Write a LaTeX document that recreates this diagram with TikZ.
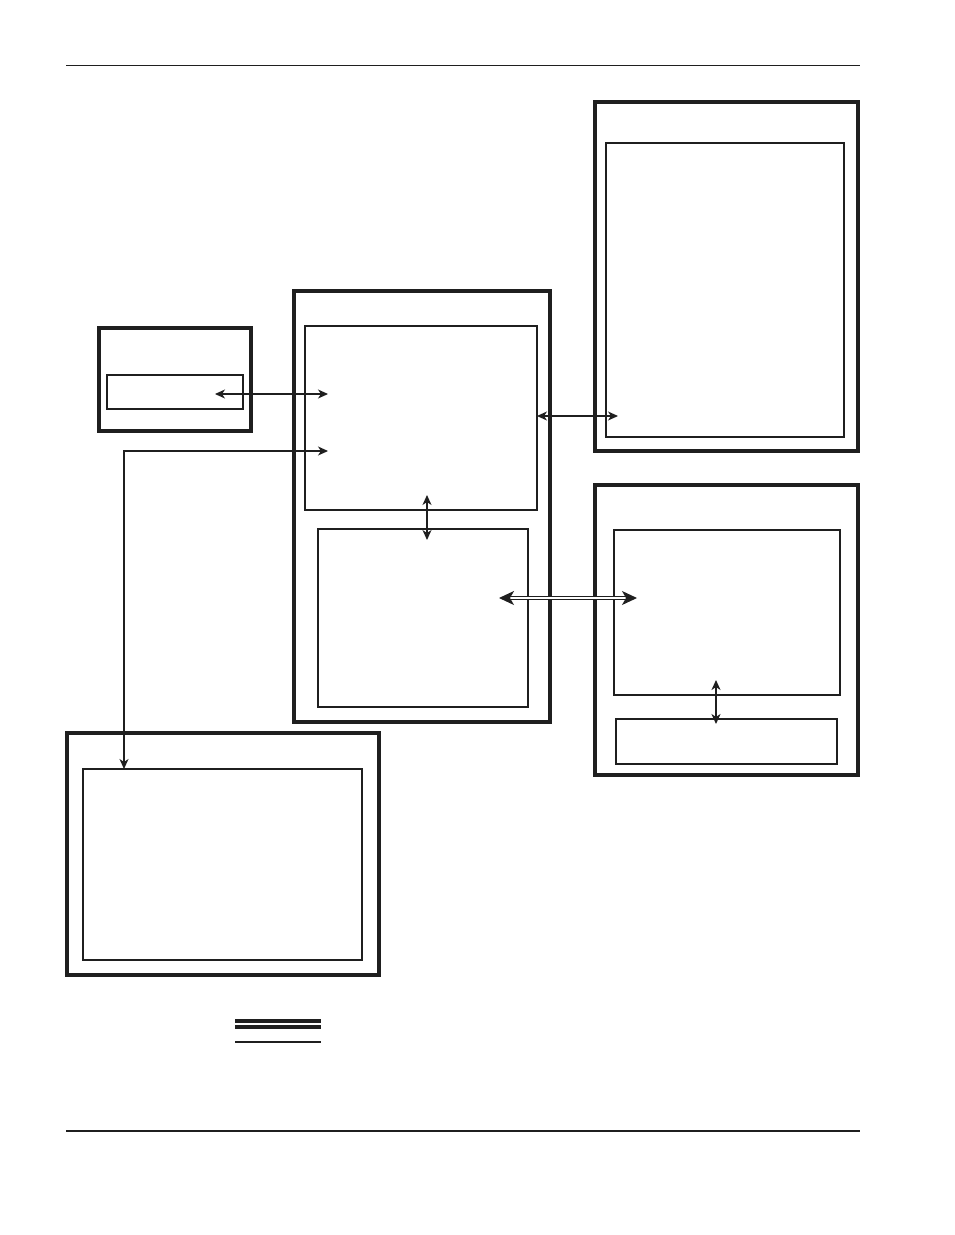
\documentclass[tikz,border=0pt]{standalone}
\usetikzlibrary{arrows.meta}

\begin{document}
\begin{tikzpicture}[x=1pt,y=-1pt,>={Stealth[length=10pt,width=9pt,inset=3pt]},
    outerbox/.style={draw=black!88,line width=3.3pt,anchor=north west,inner sep=0pt,outer sep=0pt},
    innerbox/.style={draw=black!88,line width=1.6pt,anchor=north west,inner sep=0pt,outer sep=0pt},
    link/.style={draw=black!88,line width=1.2pt,<->},
    boldlink/.style={draw=black!88,line width=2.4pt,<->},
    widelink/.style={draw=black!88,line width=1.1pt,double,double distance=2.4pt,
        {Stealth[length=15pt,width=14pt,inset=4pt]}-{Stealth[length=15pt,width=14pt,inset=4pt]}}]
    \useasboundingbox (0,0) rectangle (954,1235);

    % page rules
    \draw[black!88,line width=1pt] (66,65) -- (860,65);
    \draw[black!88,line width=2.2pt] (66,1131) -- (860,1131);

    % small unit on the left
    \node[outerbox,minimum width=152pt,minimum height=103pt] (unit) at (99,328) {};
    \node[innerbox,minimum width=136pt,minimum height=34pt] (unitport) at (107,375) {};

    % central unit
    \node[outerbox,minimum width=256pt,minimum height=431pt] (central) at (294,291) {};
    \node[innerbox,minimum width=232pt,minimum height=184pt] (cpu) at (305,326) {};
    \node[innerbox,minimum width=210pt,minimum height=178pt] (io) at (318,529) {};

    % upper right unit
    \node[outerbox,minimum width=263pt,minimum height=349pt] (store) at (595,102) {};
    \node[innerbox,minimum width=238pt,minimum height=294pt] (storein) at (606,143) {};

    % lower right unit
    \node[outerbox,minimum width=263pt,minimum height=290pt] (remote) at (595,485) {};
    \node[innerbox,minimum width=226pt,minimum height=165pt] (remotein) at (614,530) {};
    \node[innerbox,minimum width=221pt,minimum height=45pt] (remoteport) at (616,719) {};

    % lower left unit
    \node[outerbox,minimum width=312pt,minimum height=242pt] (panel) at (67,733) {};
    \node[innerbox,minimum width=279pt,minimum height=191pt] (panelin) at (83,769) {};

    % arrow ends
    \coordinate (unitend) at (215,394);
    \coordinate (cpuend) at (328,394);
    \coordinate (cpuend2) at (328,451);
    \coordinate (bend) at (124,451);
    \coordinate (panelend) at (bend |- panelin.north);
    \coordinate (storeend) at (618,416);
    \coordinate (cpuedge) at (cpu.east |- storeend);
    \coordinate (cpulow) at (427,495);
    \coordinate (iotop) at (427,540);
    \coordinate (ioend) at (499,598);
    \coordinate (remoteend) at (637,598);
    \coordinate (remlow) at (716,680);
    \coordinate (portend) at (716,724);

    % connections
    \draw[link] (panelend) -- (bend) -- (cpuend2);
    \draw[link] (unitend) -- (cpuend);
    \draw[link] (cpuedge) -- (storeend);
    \draw[link] (cpulow) -- (iotop);
    \draw[widelink] (ioend) -- (remoteend);
    \draw[boldlink] (remlow) -- (portend);

    % legend
    \draw[black!88,line width=4.6pt,double,double distance=1.6pt] (235,1024) -- (321,1024);
    \draw[black!88,line width=2.3pt] (235,1042) -- (321,1042);
\end{tikzpicture}
\end{document}
